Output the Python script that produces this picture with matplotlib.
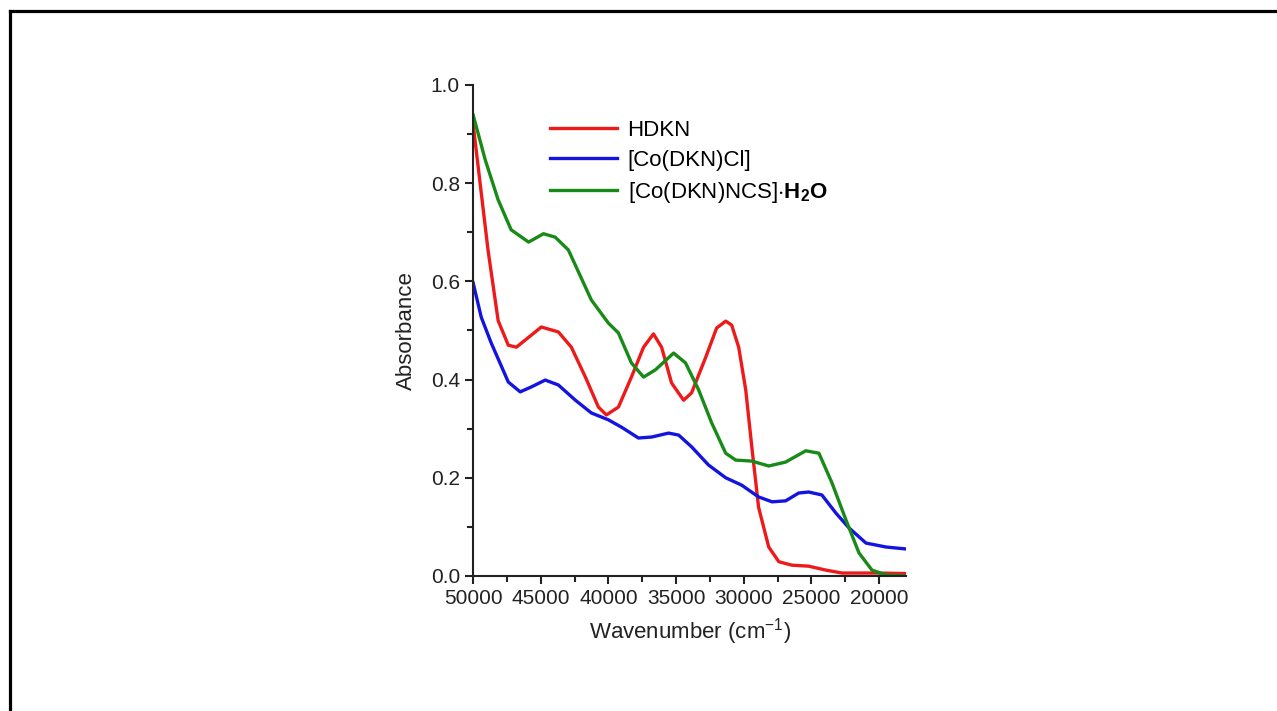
import matplotlib.pyplot as plt
from matplotlib.lines import Line2D
from matplotlib.ticker import MultipleLocator

plt.rcParams['font.family'] = ['Liberation Sans', 'DejaVu Sans']
plt.rcParams['mathtext.fontset'] = 'custom'
plt.rcParams['mathtext.rm'] = 'Liberation Sans'
plt.rcParams['mathtext.bf'] = 'Liberation Sans:bold'

# spectra (wavenumber cm-1, absorbance)
hdkn_x = [50000, 48900, 48150, 47400, 46800, 44960, 43700, 42740, 41700, 40740, 40150,
          39260, 38300, 37400, 36670, 36070, 35330, 34440, 33850, 32800, 32000, 31330,
          30890, 30370, 29850, 29400, 28900, 28150, 27400, 26440, 25200, 23930, 22740,
          20220, 18000]
hdkn_y = [0.92, 0.664, 0.52, 0.47, 0.466, 0.507, 0.497, 0.466, 0.405, 0.344, 0.328,
          0.344, 0.405, 0.466, 0.493, 0.466, 0.393, 0.358, 0.373, 0.446, 0.505, 0.519,
          0.511, 0.466, 0.379, 0.263, 0.14, 0.059, 0.029, 0.022, 0.02, 0.012, 0.006,
          0.006, 0.005]

cocl_x = [50000, 49400, 48670, 47400, 46520, 45700, 44670, 43700, 42440, 41260, 40000,
          39030, 37780, 36800, 35550, 34810, 33850, 32600, 31330, 30150, 28900, 27900,
          26900, 25930, 25200, 24220, 23180, 22220, 20960, 19480, 18000]
cocl_y = [0.597, 0.527, 0.475, 0.395, 0.375, 0.385, 0.399, 0.389, 0.358, 0.332, 0.318,
          0.303, 0.281, 0.283, 0.291, 0.287, 0.263, 0.226, 0.2, 0.185, 0.161, 0.151,
          0.153, 0.169, 0.171, 0.165, 0.128, 0.098, 0.067, 0.059, 0.055]

concs_x = [50000, 49100, 48150, 47190, 45900, 44800, 43930, 42960, 41260, 40000, 39260,
           38300, 37400, 36520, 35180, 34300, 33330, 32370, 31330, 30590, 29400, 28150,
           26900, 25410, 24440, 23480, 22440, 21480, 20520, 19480, 18000]
concs_y = [0.939, 0.847, 0.766, 0.705, 0.68, 0.697, 0.69, 0.664, 0.562, 0.515, 0.495,
           0.434, 0.405, 0.42, 0.454, 0.434, 0.379, 0.312, 0.25, 0.236, 0.234, 0.224,
           0.232, 0.255, 0.25, 0.19, 0.114, 0.047, 0.012, 0.002, 0.0]

labels = ['HDKN', '[Co(DKN)Cl]', r'[Co(DKN)NCS]$\cdot\mathbf{H_2O}$']
colors = ['#ee1a1a', '#1414e0', '#188a18']

fig = plt.figure(figsize=(12.77, 7.11), dpi=100)
ax = fig.add_axes([0.3705, 0.1899, 0.339, 0.6906])

ax.plot(hdkn_x, hdkn_y, color=colors[0], lw=2.4, label=labels[0])
ax.plot(cocl_x, cocl_y, color=colors[1], lw=2.4, label=labels[1])
ax.plot(concs_x, concs_y, color=colors[2], lw=2.4, label=labels[2])

ax.set_xlim(50000, 18000)
ax.set_ylim(0, 1.0)
ax.xaxis.set_major_locator(MultipleLocator(5000))
ax.xaxis.set_minor_locator(MultipleLocator(2500))
ax.yaxis.set_major_locator(MultipleLocator(0.2))
ax.yaxis.set_minor_locator(MultipleLocator(0.1))
ax.yaxis.set_major_formatter(plt.FormatStrFormatter('%.1f'))
ax.tick_params(which='major', length=6, width=1.5, labelsize=15, color='#222222',
               labelcolor='#222222')
ax.tick_params(which='minor', length=4, width=1.5, color='#222222')
for s in ['top', 'right']:
    ax.spines[s].set_visible(False)
for s in ['left', 'bottom']:
    ax.spines[s].set_linewidth(1.5)
    ax.spines[s].set_color('#222222')

ax.set_xlabel('Wavenumber (cm$^{-1}$)', fontsize=16, labelpad=6, color='#222222')
ax.set_ylabel('Absorbance', fontsize=16, labelpad=10, color='#222222')

ax.legend(loc='upper left', bbox_to_anchor=(0.131, 0.969), frameon=False, fontsize=16,
          handlelength=3.0, handletextpad=0.5, labelspacing=0.4, borderpad=0.4)

# frame around the picture (left and top edges)
fig.add_artist(Line2D([10 / 1277, 10 / 1277], [0, 1 - 11 / 711], color='black', lw=2.3))
fig.add_artist(Line2D([10 / 1277, 1], [1 - 11 / 711, 1 - 11 / 711], color='black', lw=2.3))

plt.savefig('out.png', dpi=100)
